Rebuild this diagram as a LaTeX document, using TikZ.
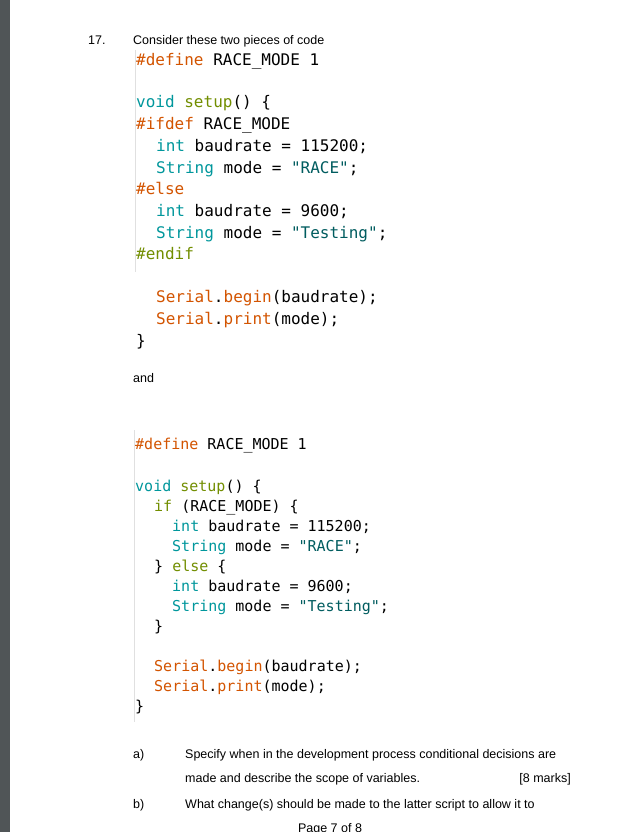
\documentclass[tikz,border=0pt]{standalone}
\usepackage{fontspec}
\setmainfont{Liberation Sans}
\newfontfamily\codefont{DejaVu Sans Mono}
\definecolor{kworange}{HTML}{D35400}
\definecolor{kwteal}{HTML}{00979C}
\definecolor{kwolive}{HTML}{728E00}
\definecolor{kwstr}{HTML}{005C5F}
\definecolor{sidebar}{HTML}{505557}
\newcommand{\Or}[1]{\textcolor{kworange}{#1}}
\newcommand{\Te}[1]{\textcolor{kwteal}{#1}}
\newcommand{\Ol}[1]{\textcolor{kwolive}{#1}}
\newcommand{\St}[1]{\textcolor{kwstr}{#1}}
\newcommand{\us}{\_}
\tikzset{
  codeA/.style={anchor=base west, inner sep=0pt, font=\codefont\fontsize{16}{18}\selectfont},
  codeB/.style={anchor=base west, inner sep=0pt, font=\codefont\fontsize{15}{17}\selectfont},
  txt/.style={anchor=base west, inner sep=0pt, font=\fontsize{12.5}{14}\selectfont},
  guide/.style={draw=black!12, line width=0.8pt}
}
\begin{document}
\begin{tikzpicture}[x=1pt,y=-1pt]
\useasboundingbox (0,0) rectangle (644,832);
\fill[white] (0,0) rectangle (644,832);
\fill[sidebar] (0,0) rectangle (10,832);
% guides
\draw[guide] (135,50) coordinate (g1a) -- (135,272) coordinate (g1b);
\draw[guide] (134,430) coordinate (g2a) -- (134,722) coordinate (g2b);
% header
\node[txt] (num) at (88,45) {17.};
\node[txt] (intro) at (133,45) {Consider these two pieces of code};
% snippet 1
\node[codeA] (a1) at (136,66) {\Or{\#define} RACE\us MODE 1};
\node[codeA] (a2) at (136,108) {\Te{void} \Ol{setup}() \{};
\node[codeA] (a3) at (136,130) {\Or{\#ifdef} RACE\us MODE};
\node[codeA] (a4) at (156,151) {\Te{int} baudrate = 115200;};
\node[codeA] (a5) at (156,173) {\Te{String} mode = \St{"RACE"};};
\node[codeA] (a6) at (136,194) {\Or{\#else}};
\node[codeA] (a7) at (156,216) {\Te{int} baudrate = 9600;};
\node[codeA] (a8) at (156,238) {\Te{String} mode = \St{"Testing"};};
\node[codeA] (a9) at (136,259) {\Ol{\#endif}};
\node[codeA] (a10) at (156,302) {\Or{Serial}.\Or{begin}(baudrate);};
\node[codeA] (a11) at (156,324) {\Or{Serial}.\Or{print}(mode);};
\node[codeA] (a12) at (136,346) {\}};
\node[txt] (and) at (133,382) {and};
% snippet 2
\node[codeB] (b1) at (135,449) {\Or{\#define} RACE\us MODE 1};
\node[codeB] (b2) at (135,491) {\Te{void} \Ol{setup}() \{};
\node[codeB] (b3) at (154,511) {\Ol{if} (RACE\us MODE) \{};
\node[codeB] (b4) at (172,531) {\Te{int} baudrate = 115200;};
\node[codeB] (b5) at (172,551) {\Te{String} mode = \St{"RACE"};};
\node[codeB] (b6) at (154,571) {\} \Ol{else} \{};
\node[codeB] (b7) at (172,591) {\Te{int} baudrate = 9600;};
\node[codeB] (b8) at (172,611) {\Te{String} mode = \St{"Testing"};};
\node[codeB] (b9) at (154,631) {\}};
\node[codeB] (b10) at (154,671) {\Or{Serial}.\Or{begin}(baudrate);};
\node[codeB] (b11) at (154,691) {\Or{Serial}.\Or{print}(mode);};
\node[codeB] (b12) at (135,711) {\}};
% questions
\node[txt] (qa) at (133,758) {a)};
\node[txt] (qa1) at (185,758) {Specify when in the development process conditional decisions are};
\node[txt] (qa2) at (185,782) {made and describe the scope of variables.};
\node[txt, anchor=base east] (marks) at (571,782) {[8 marks]};
\node[txt] (qb) at (133,808) {b)};
\node[txt] (qb1) at (185,808) {What change(s) should be made to the latter script to allow it to};
\node[txt, anchor=base] (page) at (330,832) {Page 7 of 8};
\end{tikzpicture}
\end{document}
